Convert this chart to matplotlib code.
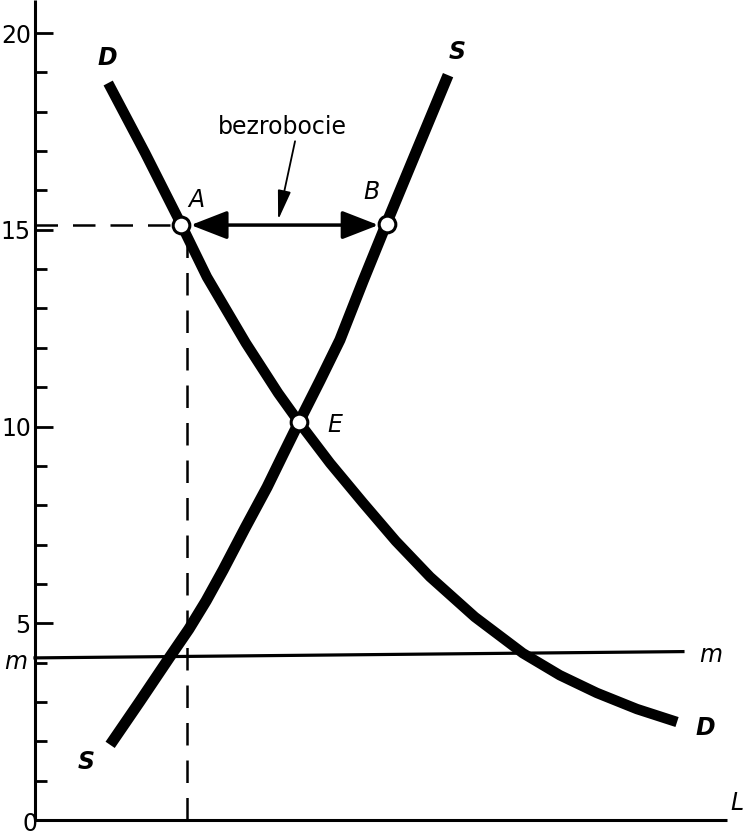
#!/usr/bin/env python

# Labour market: demand D, supply S, minimum wage m and unemployment A-B

import matplotlib.pyplot as plt
import numpy as np

# demand curve D (labour L, wage)
d_L = [1.86, 2.80, 3.71, 4.37, 5.36, 6.18, 6.71, 7.50, 8.34, 9.17, 10.04,
       11.18, 12.40, 13.34, 14.28, 15.30, 16.32]
d_w = [18.73, 16.95, 15.15, 13.80, 12.12, 10.85, 10.11, 9.07, 8.06, 7.09, 6.18,
       5.16, 4.24, 3.68, 3.23, 2.82, 2.49]

# supply curve S
s_L = [1.91, 2.67, 3.41, 3.91, 4.35, 4.78, 5.34, 5.90, 6.30, 6.71,
       7.24, 7.75, 8.34, 8.95, 9.73, 10.50]
s_w = [1.91, 3.02, 4.12, 4.85, 5.57, 6.35, 7.42, 8.46, 9.28, 10.11,
       11.16, 12.20, 13.70, 15.20, 17.08, 18.93]

# minimum wage line m
m_L = [0.0, 16.47]
m_w = [4.12, 4.28]

# marked points
pt_names = ["A", "B", "E"]
pt_L = [3.71, 8.95, 6.71]
pt_w = [15.12, 15.15, 10.11]

dash_L = 3.86
y_major = [5, 10, 15, 20]
y_minor = [1, 2, 3, 4, 6, 7, 8, 9, 11, 12, 13, 14, 16, 17, 18, 19]

plt.rcParams["font.family"] = ["DejaVu Sans"]

fig = plt.figure(figsize=(7.5, 8.4), dpi=100)
ax = fig.add_axes([35 / 750, 20 / 840, 692 / 750, 820 / 840])
ax.set_xlim(0, 17.59)
ax.set_ylim(0, 20.84)

for s in ["top", "right"]:
    ax.spines[s].set_visible(False)
for s in ["left", "bottom"]:
    ax.spines[s].set_linewidth(2.2)
    ax.spines[s].set_capstyle("butt")

ax.set_xticks([])
ax.set_yticks(y_major)
ax.set_yticklabels([str(v) for v in y_major], fontsize=17)
ax.set_yticks(y_minor, minor=True)
ax.tick_params(axis="y", which="major", direction="in", length=13, width=2, pad=3)
ax.tick_params(axis="y", which="minor", direction="in", length=8.5, width=2)

# curves
ax.plot(d_L, d_w, color="black", lw=7.5, solid_capstyle="butt", solid_joinstyle="round")
ax.plot(s_L, s_w, color="black", lw=8, solid_capstyle="butt", solid_joinstyle="round")
ax.plot(m_L, m_w, color="black", lw=2.3, clip_on=False)

# dashed guides to A
ax.plot([0, pt_L[0]], [pt_w[0], pt_w[0]], color="black", lw=1.8, dashes=(9, 6))
ax.plot([dash_L, dash_L], [0, pt_w[0] - 0.3], color="black", lw=1.8, dashes=(9, 6))

# unemployment arrow A <-> B
ax.annotate("", xy=(pt_L[0] + 0.25, pt_w[0]), xytext=(pt_L[1] - 0.22, pt_w[0]),
            arrowprops=dict(arrowstyle="<|-|>,head_length=0.9,head_width=0.35",
                            color="black", lw=2.5, shrinkA=0, shrinkB=0,
                            mutation_scale=25))
ax.text(6.30, 17.61, "bezrobocie", ha="center", va="center", fontsize=17)
ax.annotate("", xy=(6.18, 15.25), xytext=(6.61, 17.25),
            arrowprops=dict(arrowstyle="-|>,head_length=0.9,head_width=0.2",
                            color="black", lw=1.3, shrinkA=0, shrinkB=0,
                            mutation_scale=20))

# points
ax.plot(pt_L, pt_w, "o", ms=12, mfc="white", mec="black", mew=2.2, zorder=5)

lab = dict(ha="center", va="center", fontstyle="italic", fontsize=17, clip_on=False)
ax.text(4.09, 15.76, "A", **lab)
ax.text(8.56, 15.96, "B", **lab)
ax.text(7.62, 10.04, "E", **lab)
ax.text(1.85, 19.36, "D", fontweight="bold", **lab)
ax.text(10.72, 19.52, "S", fontweight="bold", **lab)
ax.text(1.30, 1.47, "S", fontweight="bold", **lab)
ax.text(17.05, 2.34, "D", fontweight="bold", **lab)
ax.text(17.18, 4.19, "m", **lab)
ax.text(-0.48, 4.02, "m", **lab)
ax.text(17.84, 0.43, "L", **lab)
ax.text(-0.12, -0.1, "0", ha="center", va="center", fontsize=17, clip_on=False)

fig.savefig("out.png", dpi=100)
